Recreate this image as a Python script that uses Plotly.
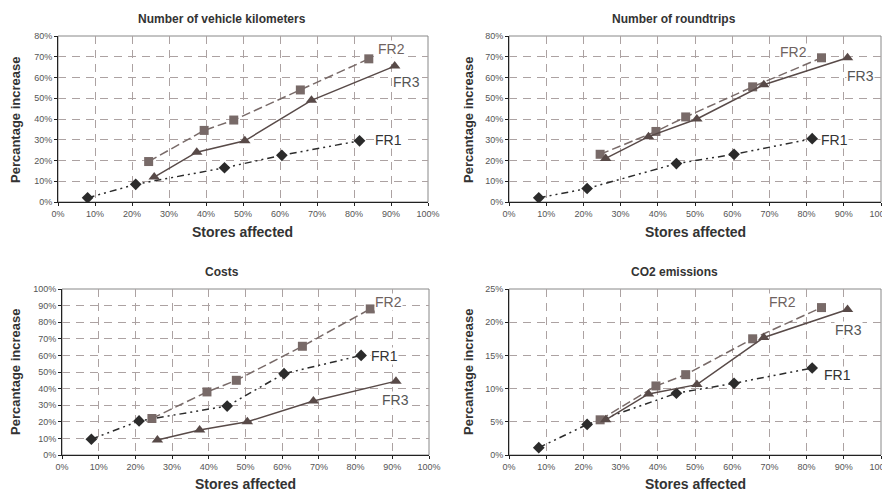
import plotly.graph_objects as go

# ---- data ----
x_fr1 = [8, 21, 45, 60.5, 81.5]
x_fr2 = [24.5, 39.5, 47.5, 65.5, 84]
x_fr3 = [26, 37.5, 50.5, 68.5, 91]

titles = ["Number of vehicle kilometers", "Number of roundtrips", "Costs", "CO2 emissions"]

km_fr1 = [2, 8.5, 16.5, 22.5, 29.5]
km_fr2 = [19.5, 34.5, 39.5, 54, 69]
km_fr3 = [12, 24, 29.5, 49, 65.5]

rt_fr1 = [2, 6.5, 18.5, 23, 30.5]
rt_fr2 = [23, 34, 41, 55.5, 69.5]
rt_fr3 = [21, 31.5, 40, 56.5, 69.5]

cost_fr1 = [9.5, 20.5, 29.5, 49, 60]
cost_fr2 = [22, 38, 45, 65.5, 88]
cost_fr3 = [9, 15, 20, 32.5, 44.5]

co2_fr1 = [1.1, 4.6, 9.3, 10.8, 13.1]
co2_fr2 = [5.3, 10.4, 12.1, 17.5, 22.2]
co2_fr3 = [5.3, 9.2, 10.6, 17.7, 21.9]

y_max = [80, 80, 100, 25]
y_step = [10, 10, 10, 5]
x_ticks = [0, 10, 20, 30, 40, 50, 60, 70, 80, 90, 100]

# label positions (data coords) for FR1, FR2, FR3 per panel
lbl_fr1 = [(89.2, 29.9), (87.6, 29.9), (88.0, 59.6), (88.2, 12.0)]
lbl_fr2 = [(90.0, 73.7), (76.6, 72.3), (89.0, 92.2), (73.4, 23.0)]
lbl_fr3 = [(94.3, 57.8), (94.6, 60.7), (90.8, 33.1), (91.3, 18.8)]

series = [
    (km_fr1, km_fr2, km_fr3),
    (rt_fr1, rt_fr2, rt_fr3),
    (cost_fr1, cost_fr2, cost_fr3),
    (co2_fr1, co2_fr2, co2_fr3),
]

OFF = 8  # page body margin
W, H = 890 - OFF, 494 - OFF
# plot-area pixel boxes in the window: (left, right, top, bottom)
boxes = [(58, 428, 36, 202), (509, 881, 36, 202), (62, 429, 289, 455), (509, 881, 289, 455)]
title_pos = [(222, 19), (674, 19), (222, 272), (674, 272)]
xtitle_pos = [(242, 232), (695, 232), (245, 484), (695, 484)]
ytitle_pos = [(15, 120), (468, 120), (15, 372), (468, 372)]


def px(x):
    return (x - OFF) / W


def py(y):
    return 1 - (y - OFF) / H


C1, C2, C3 = "#2b2b2b", "#786a68", "#584a48"
FONT = "Liberation Sans, Arial, sans-serif"
GRID = "#aca2a2"

fig = go.Figure()
layout = dict(
    width=W, height=H, margin=dict(l=0, r=0, t=0, b=0, autoexpand=False),
    paper_bgcolor="white", plot_bgcolor="white", showlegend=False,
    font=dict(family=FONT),
)
annotations = []
shapes = []

for i in range(4):
    l, r, t, b = boxes[i]
    xa = "xaxis" if i == 0 else f"xaxis{i+1}"
    ya = "yaxis" if i == 0 else f"yaxis{i+1}"
    xr = "x" if i == 0 else f"x{i+1}"
    yr = "y" if i == 0 else f"y{i+1}"
    s1, s2, s3 = series[i]
    fig.add_trace(go.Scatter(x=x_fr1, y=s1, mode="lines+markers", xaxis=xr, yaxis=yr,
                             line=dict(color=C1, width=1.5, dash="7px,4px,2px,4px,2px,4px"),
                             marker=dict(symbol="diamond", size=9, color=C1)))
    fig.add_trace(go.Scatter(x=x_fr2, y=s2, mode="lines+markers", xaxis=xr, yaxis=yr,
                             line=dict(color=C2, width=1.5, dash="9px,4px"),
                             marker=dict(symbol="square", size=9, color=C2)))
    fig.add_trace(go.Scatter(x=x_fr3, y=s3, mode="lines+markers", xaxis=xr, yaxis=yr,
                             line=dict(color=C3, width=1.5),
                             marker=dict(symbol="triangle-up", size=10, color=C3)))
    layout[xa] = dict(
        domain=[px(l), px(r)], anchor=yr, range=[0, 100], tickvals=x_ticks,
        ticktext=[f"{v}%" for v in x_ticks], showgrid=True, gridcolor=GRID,
        griddash="8px,6px", gridwidth=1, showline=True, linecolor="#222", linewidth=1,
        ticks="outside", ticklen=3, tickcolor="#222", zeroline=False, automargin=False,
        ticklabeloverflow="allow",
        tickfont=dict(size=9, color="#555", family=FONT), fixedrange=True,
    )
    yv = list(range(0, y_max[i] + 1, y_step[i]))
    layout[ya] = dict(
        domain=[py(b), py(t)], anchor=xr, range=[0, y_max[i]], tickvals=yv,
        ticktext=[f"{v}%" for v in yv], showgrid=True, gridcolor=GRID,
        griddash="8px,6px", gridwidth=1, showline=True, linecolor="#222", linewidth=1,
        ticks="outside", ticklen=3, tickcolor="#222", zeroline=False, automargin=False,
        ticklabeloverflow="allow",
        tickfont=dict(size=9, color="#555", family=FONT), fixedrange=True,
    )
    shapes.append(dict(type="rect", xref=f"{xr} domain", yref=f"{yr} domain",
                       x0=0, x1=1, y0=0, y1=1, line=dict(color="#888", width=1), layer="below"))
    # series labels
    for (lx, ly), txt, col in ((lbl_fr1[i], "FR1", "#333"), (lbl_fr2[i], "FR2", "#6e6260"), (lbl_fr3[i], "FR3", "#555")):
        annotations.append(dict(x=lx, y=ly, xref=xr, yref=yr, text=txt, showarrow=False,
                                xanchor="center", yanchor="middle",
                                font=dict(size=14, color=col, family=FONT), bgcolor="white",
                                borderpad=0))
    tx, ty = title_pos[i]
    annotations.append(dict(x=px(tx), y=py(ty), xref="paper", yref="paper", text=f"<b>{titles[i]}</b>",
                            xanchor="center", yanchor="middle",
                            showarrow=False, font=dict(size=12, color="#333", family=FONT)))
    tx, ty = xtitle_pos[i]
    annotations.append(dict(x=px(tx), y=py(ty), xref="paper", yref="paper", text="<b>Stores affected</b>",
                            xanchor="center", yanchor="middle",
                            showarrow=False, font=dict(size=14, color="#333", family=FONT)))
    tx, ty = ytitle_pos[i]
    annotations.append(dict(x=px(tx), y=py(ty), xref="paper", yref="paper", text="<b>Percantage increase</b>",
                            xanchor="center", yanchor="middle",
                            showarrow=False, textangle=-90, font=dict(size=13, color="#333", family=FONT)))

layout["annotations"] = annotations
layout["shapes"] = shapes
fig.update_layout(**layout)
fig.write_html("out.html")
